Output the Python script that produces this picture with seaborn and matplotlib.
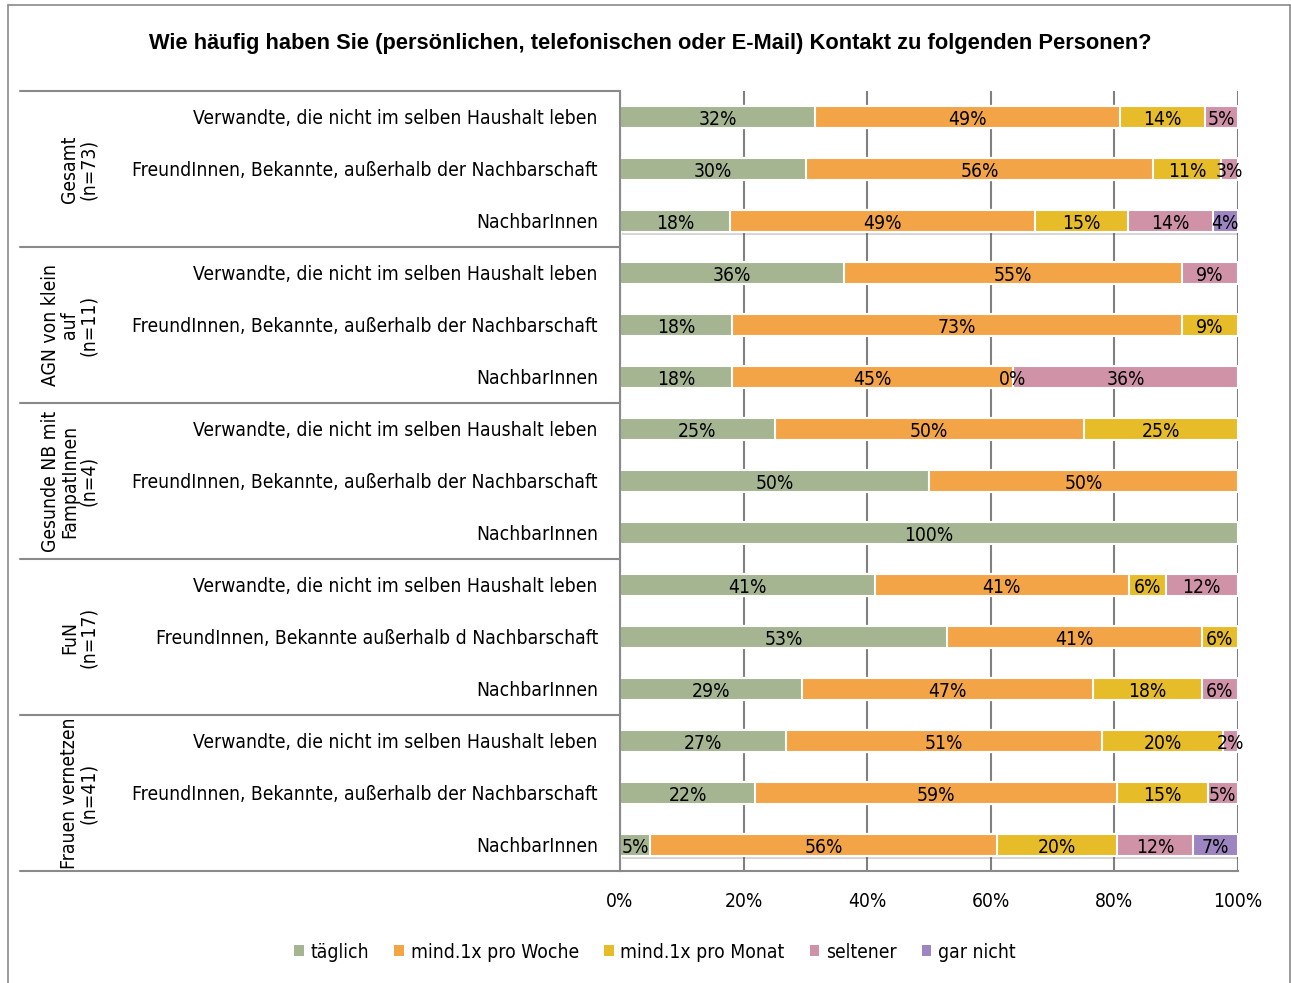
import numpy as np
import pandas as pd
import seaborn as sns
import matplotlib.pyplot as plt
import matplotlib.patheffects as pe
from matplotlib.lines import Line2D
from matplotlib.patches import Rectangle
from matplotlib.textpath import TextPath
from matplotlib.font_manager import FontProperties, fontManager

title = "Wie häufig haben Sie (persönlichen, telefonischen oder E-Mail) Kontakt zu folgenden Personen?"
categories = ["täglich", "mind.1x pro Woche", "mind.1x pro Monat", "seltener", "gar nicht"]
colors = ["#A5B592", "#F3A447", "#E7BC29", "#D092A7", "#9C85C0"]

groups = ["Gesamt\n(n=73)", "AGN von klein\nauf\n(n=11)", "Gesunde NB mit\nFampatInnen\n(n=4)",
          "FuN\n(n=17)", "Frauen vernetzen\n(n=41)"]
verw = "Verwandte, die nicht im selben Haushalt leben"
freund = "FreundInnen, Bekannte, außerhalb der Nachbarschaft"
nachbar = "NachbarInnen"
row_labels = [verw, freund, nachbar,
              verw, freund, nachbar,
              verw, freund, nachbar,
              verw, "FreundInnen, Bekannte außerhalb d Nachbarschaft", nachbar,
              verw, freund, nachbar]

NaN = np.nan
taeglich = [31.6, 30.1, 17.8, 36.3, 18.2, 18.2, 25, 50, 100, 41.2, 52.9, 29.4, 26.8, 21.9, 4.9]
woche = [49.3, 56.2, 49.3, 54.6, 72.7, 45.4, 50, 50, NaN, 41.2, 41.2, 47.1, 51.2, 58.6, 56.1]
monat = [13.7, 11.0, 15.1, NaN, 9.1, 0, 25, NaN, NaN, 5.9, 5.9, 17.6, 19.6, 14.6, 19.5]
seltener = [5.4, 2.7, 13.7, 9.1, NaN, 36.4, NaN, NaN, NaN, 11.7, NaN, 5.9, 2.4, 4.9, 12.2]
gar_nicht = [NaN, NaN, 4.1, NaN, NaN, NaN, NaN, NaN, NaN, NaN, NaN, NaN, NaN, NaN, 7.3]

W, H = 1291, 983

sns.set_theme(style="white")

# prefer a narrow face like the original (Arial Narrow look), else plain Liberation Sans
narrow = None
for f in fontManager.ttflist:
    if "Narrow" in f.name or "Condensed" in f.name or f.stretch in ("condensed", "semi-condensed"):
        narrow = f
        break
if narrow is not None:
    text_prop = dict(family=[narrow.name, "DejaVu Sans"], stretch=narrow.stretch)
else:
    text_prop = dict(family=["Liberation Sans", "DejaVu Sans"])
plt.rcParams["font.family"] = text_prop["family"]
if "stretch" in text_prop:
    plt.rcParams["font.stretch"] = text_prop["stretch"]
for key in ["text.color", "xtick.color", "ytick.color", "axes.labelcolor"]:
    plt.rcParams[key] = "black"


def size_for(text, width_px, **prop):
    tp = TextPath((0, 0), text, size=100, prop=FontProperties(**prop))
    return width_px * 72 / tp.get_extents().width


FS = size_for(verw, 403, **text_prop)
TFS = size_for(title, 1002, family=["Liberation Sans", "DejaVu Sans"], weight="bold")


def fx(x):
    return x / W


def fy(y):
    return 1 - y / H


values = np.array([taeglich, woche, monat, seltener, gar_nicht], dtype=float)
row_ids = [f"r{i}" for i in range(len(row_labels))]
starts = np.vstack([np.zeros(len(row_ids)), np.nancumsum(values, axis=0)[:-1]])
ends = np.nancumsum(values, axis=0)

fig = plt.figure(figsize=(W / 100, H / 100), dpi=100)
ax = fig.add_axes([fx(620), fy(871), fx(1238) - fx(620), 780 / H])

# stacked bars: draw cumulative totals from the last category to the first
for k in range(len(categories) - 1, -1, -1):
    df = pd.DataFrame({"row": row_ids, "cum": np.where(np.isnan(values[k]), 0, ends[k])})
    kw = {}
    if k == len(categories) - 1:
        kw["path_effects"] = [pe.SimplePatchShadow(offset=(1.5, -2.5), alpha=0.2), pe.Normal()]
    sns.barplot(data=df, x="cum", y="row", order=row_ids, orient="h", color=colors[k],
                width=0.42, edgecolor="white", linewidth=1.5, saturation=1, ax=ax, **kw)

for k in range(len(categories)):
    for i in range(len(row_ids)):
        v = values[k, i]
        if np.isnan(v):
            continue
        ax.text(starts[k, i] + v / 2, i + 0.04, f"{v:.0f}%", ha="center", va="center",
                fontsize=FS, color="black")

ax.set_xlim(0, 100)
ax.set_ylim(len(row_ids) - 0.5, -0.5)
ax.set_xticks(range(0, 101, 20))
ax.set_xticklabels([f"{t}%" for t in range(0, 101, 20)], fontsize=FS)
ax.set_yticks(range(len(row_ids)))
ax.set_yticklabels(row_labels, fontsize=FS)
ax.tick_params(axis="x", length=0, pad=15)
ax.tick_params(axis="y", length=0, pad=16)
ax.set_xlabel("")
ax.set_ylabel("")
ax.xaxis.grid(True, color="#808080", linewidth=1.5)
ax.set_axisbelow(True)
for s in ["top", "right"]:
    ax.spines[s].set_visible(False)
for s in ["left", "bottom"]:
    ax.spines[s].set_color("#8a8a8a")
    ax.spines[s].set_linewidth(1.5)

# group separators and group labels
yt = ax.get_yaxis_transform()
for b in np.arange(-0.5, len(row_ids), 3):
    ax.add_line(Line2D([(20 - 620) / 618, 0], [b, b], transform=yt, color="#8a8a8a",
                       linewidth=1.5, clip_on=False))
for g, name in enumerate(groups):
    ax.text((98 - 620) / 618, 3 * g + 1, name, transform=yt, rotation=90, ha="right",
            va="center", multialignment="center", fontsize=FS, linespacing=1.0)

fig.text(fx(650), fy(44), title, ha="center", va="center", fontsize=TFS, fontweight="bold",
         family=["Liberation Sans", "DejaVu Sans"])

handles = [Rectangle((0, 0), 1, 1, facecolor=c, edgecolor="none") for c in colors]
fig.legend(handles, categories, loc="center", bbox_to_anchor=(fx(655), fy(952)), ncol=5,
           frameon=False, fontsize=FS, handlelength=0.5, handleheight=0.5,
           handletextpad=0.35, columnspacing=1.3)

# outer frame
for xs, ys in [([8, 8], [5, H]), ([8, W - 1], [5, 5]), ([W - 1, W - 1], [5, H])]:
    fig.add_artist(Line2D([fx(x) for x in xs], [fy(y) for y in ys], color="#8a8a8a", linewidth=1.2))

fig.savefig("out.png", dpi=100)
